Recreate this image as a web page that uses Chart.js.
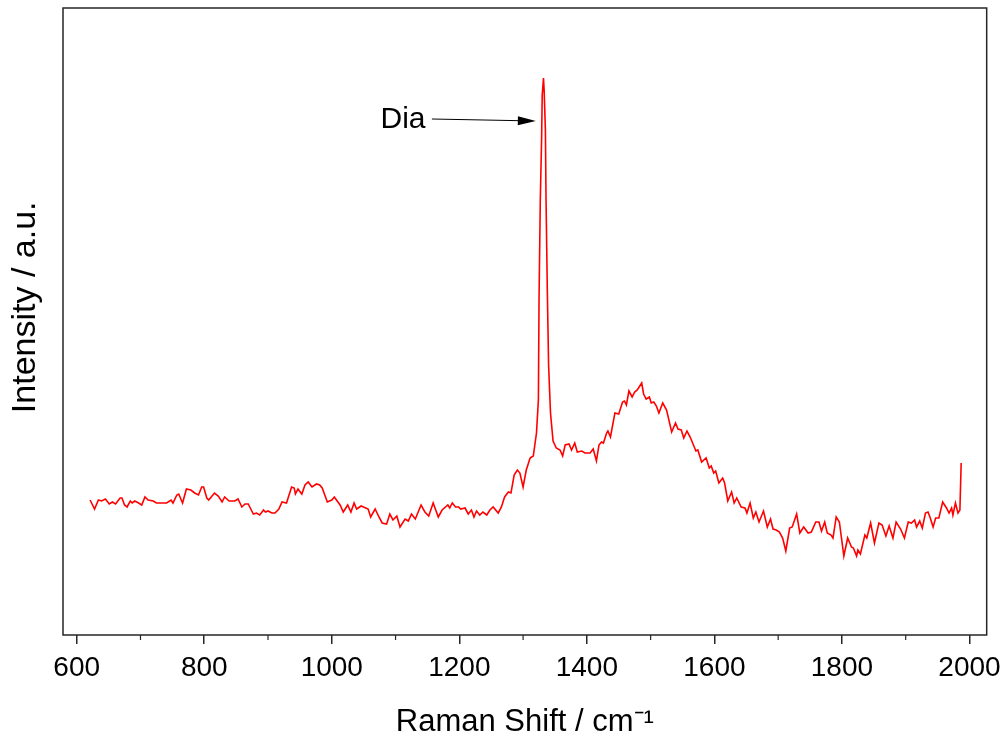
<!DOCTYPE html>
<html>
<head>
<meta charset="utf-8">
<script src="https://cdn.jsdelivr.net/npm/chart.js@4"></script>
<style>
html,body{margin:0;padding:0;background:#fff;}
#wrap{width:1008px;height:738px;}
</style>
</head>
<body>
<div id="wrap"><canvas id="ramanChart" width="1008" height="738"></canvas></div>
<script>
// Raman shift (cm-1)
const ramanShift = [
621,628,634,639,645,651,656,661,668,671,675,679,684,687,691,697,702,707,712,720,
725,741,748,751,757,760,766,772,779,785,791,796,799,804,807,816,822,828,832,839,
848,853,859,864,869,877,882,887,893,896,900,906,911,917,922,929,937,941,943,947,
953,958,963,969,976,981,985,993,1000,1004,
1013,1018,1025,1030,1035,1039,1046,1057,1061,1068,1074,1079,1086,1091,1096,1102,1107,1115,1120,1125,
1131,1140,1146,1152,1159,1167,1173,1182,1185,1189,1194,1199,1202,1209,1214,1219,1223,1227,1232,1237,
1243,1248,1253,1261,1266,1271,1277,1281,1286,1291,1295,1300,1305,1311,1316,1321,1324,1325,1327,1329,
1330,1332,1333,1335,1336,1338,1340,1343,1347,1352,1358,1362,1366,1372,1376,1381,1385,1392,1397,
1405,1410,1415,1419,1423,1426,1431,1433,1437,1444,1450,1456,1459,1462,1466,1471,1475,1479,1486,1489,
1493,1498,1501,1505,1509,1513,1519,1525,1533,1539,1543,1548,1552,1557,1562,1571,1574,1580,1587,1592,
1595,1599,1602,1607,1613,1616,1621,1627,1631,1635,1642,1648,1651,1656,1661,1665,1670,1677,1683,1688,
1692,1697,1702,1707,1712,1718,1722,1729,1734,
1740,1747,1752,1759,1764,1768,1773,1777,1783,1786,1791,1796,1803,1809,1815,1818,1823,1825,1829,1836,
1839,1845,1851,1858,1863,1869,1874,1880,1885,1892,1898,1904,1909,1914,1917,1922,1926,1931,1935,1938,
1943,1947,1952,1958,1964,1968,1972,1974,1978,1982,1985,1987
];

// intensity (arbitrary units)
const intensity = [
135,126,135,134,136,131,133,131,137,137,130,128,134,132,134,132,130,138,135,134,
132,132,135,132,140,141,132,146,145,142,140,148,148,137,135,142,139,133,138,134,
134,136,128,131,131,121,122,120,125,123,124,122,122,126,133,132,148,147,141,146,
141,150,153,148,151,150,147,133,135,138,
130,123,130,123,132,126,129,126,118,126,118,112,111,121,115,119,108,116,114,121,
116,130,123,119,132,118,125,130,127,132,128,128,126,127,121,125,118,124,120,123,
120,125,128,122,128,138,143,142,160,165,162,148,165,177,179,202,235,335,435,495,
540,557,545,505,435,345,270,222,194,187,185,179,190,191,185,192,183,184,182,
182,186,174,190,193,192,202,204,198,222,221,233,234,230,244,238,243,245,252,241,
236,238,232,233,229,222,232,225,203,212,206,205,197,204,198,184,185,173,177,167,
169,162,164,152,157,152,134,143,132,137,128,127,122,132,117,123,113,124,108,116,
106,105,103,97,84,107,108,121,102,
108,102,103,113,113,104,113,102,100,97,118,113,79,97,88,87,79,85,81,100,
97,112,92,112,110,99,109,97,113,106,97,113,112,115,108,114,107,122,123,118,
108,117,117,133,127,122,127,120,132,122,125,172
];

const xTicks = [600,700,800,900,1000,1100,1200,1300,1400,1500,1600,1700,1800,1900,2000];
const xMin = 578.5;
const xMax = 2027;
const yMin = 0;
const yMax = 627;

const peakLabel = "Dia";
const labelAt = [1147, 515];
const arrowFrom = [1157, 516];
const arrowTo = [1320, 514];

const axisColor = '#262626';
const fontFamily = "'Liberation Sans', Arial, sans-serif";

const points = ramanShift.map((x,i) => ({x:x, y:intensity[i]}));

// box round the plot, short minor ticks and the arrow label
const extras = {
id:'extras',
afterDraw(chart){
const c = chart.ctx;
const a = chart.chartArea;
const xs = chart.scales.x;
const ys = chart.scales.y;

c.save();
c.strokeStyle = axisColor;
c.lineWidth = 1.5;
c.strokeRect(a.left, a.top, a.right - a.left, a.bottom - a.top);

c.lineWidth = 1.2;
xTicks.forEach(v => {
if(v % 200 === 0) return;
const px = xs.getPixelForValue(v);
c.beginPath();
c.moveTo(px, a.bottom);
c.lineTo(px, a.bottom + 5);
c.stroke();
});

c.fillStyle = '#000';
c.font = "30px " + fontFamily;
c.textAlign = 'right';
c.textBaseline = 'middle';
c.fillText(peakLabel, xs.getPixelForValue(labelAt[0]), ys.getPixelForValue(labelAt[1]));

const x1 = xs.getPixelForValue(arrowFrom[0]);
const y1 = ys.getPixelForValue(arrowFrom[1]);
const x2 = xs.getPixelForValue(arrowTo[0]);
const y2 = ys.getPixelForValue(arrowTo[1]);
const ang = Math.atan2(y2 - y1, x2 - x1);
c.strokeStyle = '#000';
c.lineWidth = 1;
c.beginPath();
c.moveTo(x1, y1);
c.lineTo(x2 - 16*Math.cos(ang), y2 - 16*Math.sin(ang));
c.stroke();
c.beginPath();
c.moveTo(x2, y2);
c.lineTo(x2 - 18*Math.cos(ang) + 4.5*Math.sin(ang), y2 - 18*Math.sin(ang) - 4.5*Math.cos(ang));
c.lineTo(x2 - 18*Math.cos(ang) - 4.5*Math.sin(ang), y2 - 18*Math.sin(ang) + 4.5*Math.cos(ang));
c.closePath();
c.fill();
c.restore();
}
};

const ctx = document.getElementById('ramanChart');

let chart = new Chart(ctx,{
type:'line',
data:{
datasets:[{
data:points,
borderColor:'#ff0000',
borderWidth:1.6,
pointRadius:0,
fill:false,
tension:0
}]
},
options:{
responsive:false,
animation:false,
layout:{
padding:{top:8, right:21, bottom:0, left:0}
},
plugins:{
legend:{display:false},
tooltip:{enabled:false}
},
scales:{
x:{
type:'linear',
min:xMin,
max:xMax,
afterBuildTicks(scale){
scale.ticks = xTicks.map(v => ({value:v}));
},
afterFit(scale){
scale.height = 103;
},
grid:{
drawOnChartArea:false,
drawTicks:true,
tickLength:9,
lineWidth:1.5,
color:(c) => (c.tick && c.tick.value % 200 === 0) ? axisColor : 'rgba(0,0,0,0)'
},
border:{display:false},
ticks:{
color:'#000',
padding:7,
maxRotation:0,
autoSkip:false,
font:{family:fontFamily, size:28},
callback:(v) => v % 200 === 0 ? String(v) : ''
},
title:{
display:true,
text:'Raman Shift / cm\u207B\u00B9',
color:'#000',
font:{family:fontFamily, size:31},
padding:{top:0, bottom:-3}
}
},
y:{
min:yMin,
max:yMax,
afterFit(scale){
scale.width = 63;
},
grid:{display:false},
border:{display:false},
ticks:{display:false},
title:{
display:true,
text:'   Intensity / a.u.',
color:'#000',
font:{family:fontFamily, size:34},
padding:{top:5, bottom:0}
}
}
}
},
plugins:[extras]
});
</script>
</body>
</html>
